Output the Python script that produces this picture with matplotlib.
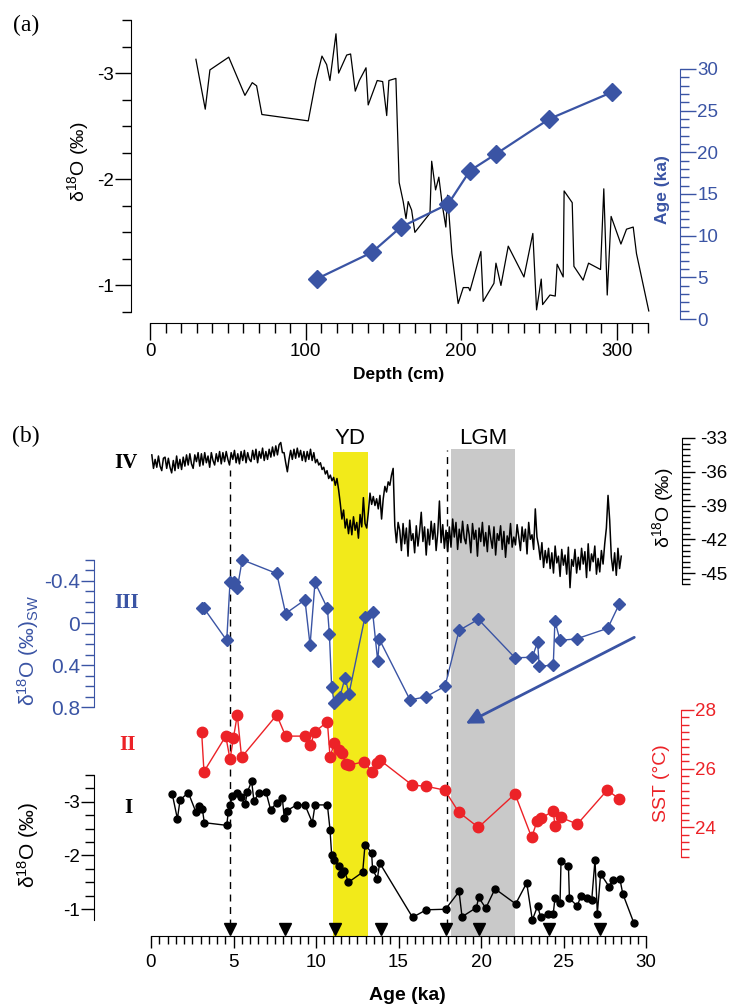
import numpy as np
import matplotlib.pyplot as plt
from matplotlib.ticker import MultipleLocator, FixedLocator, FuncFormatter

plt.rcParams['font.family'] = ['Liberation Sans', 'DejaVu Sans']
plt.rcParams['axes.unicode_minus'] = False
plt.rcParams['mathtext.fontset'] = 'custom'
plt.rcParams['mathtext.rm'] = 'Liberation Sans'
plt.rcParams['mathtext.it'] = 'Liberation Sans:italic'
plt.rcParams['mathtext.bf'] = 'Liberation Sans:bold'
plt.rcParams['mathtext.default'] = 'regular'

BLUE = '#3a54a4'
RED = '#ec2227'
YELLOW = '#f2ea1a'
GREY = '#c9c9c9'

# ---- panel (a): d18O vs depth and age model
depth_a = [29.5, 35.5, 38.5, 50.6, 61.0, 65.7, 68.5, 71.9, 101.7, 106.6,
           110.5, 113.5, 115.6, 119.5, 121.2, 126.4, 128.9, 131.9, 134.5, 138.8,
           140.2, 146.0, 149.5, 152.1, 153.5, 158.0, 160.1, 162.7, 164.5, 165.9,
           168.1, 170.2, 179.9, 181.0, 183.5, 185.6, 187.8, 190.1, 191.2, 194.0,
           198.0, 201.3, 204.7, 205.6, 212.6, 214.1, 221.0, 222.3, 225.5, 230.2,
           240.3, 246.0, 248.4, 251.4, 252.3, 257.0, 260.4, 261.6, 265.5, 266.1,
           271.3, 272.4, 278.3, 281.8, 289.5, 291.6, 293.8, 296.3, 302.6, 306.2,
           310.5, 312.6, 320.5]
d18o_a = [-3.13, -2.66, -3.03, -3.15, -2.79, -2.91, -2.88, -2.61, -2.55, -2.93,
          -3.16, -3.08, -2.93, -3.37, -3.00, -3.17, -3.18, -2.83, -2.93, -3.05,
          -2.70, -2.93, -2.92, -2.60, -2.93, -2.95, -1.97, -1.79, -1.63, -1.79,
          -1.71, -1.50, -1.68, -2.17, -1.90, -2.02, -1.76, -1.55, -1.85, -1.30,
          -0.83, -0.98, -0.98, -0.95, -1.32, -0.85, -1.02, -1.21, -1.00, -1.37,
          -1.08, -1.49, -0.77, -1.06, -0.82, -0.91, -0.90, -1.20, -1.08, -1.89,
          -1.78, -1.18, -1.05, -1.21, -1.15, -1.91, -0.91, -1.65, -1.39, -1.53,
          -1.55, -1.30, -0.76]
depth_dated = [107, 142.6, 161, 191.6, 205.6, 222.3, 256.5, 296.6]
age_dated = [4.8, 8.0, 11.0, 13.8, 17.8, 19.8, 24.0, 27.2]

# ---- panel (b)
# I: planktonic d18O
age_1 = [1.29, 1.60, 1.76, 2.26, 2.73, 2.91, 3.11, 3.23, 4.59, 4.68,
         4.79, 4.93, 5.19, 5.43, 5.70, 5.84, 6.10, 6.24, 6.56, 6.97,
         7.25, 7.62, 7.96, 8.08, 8.22, 8.83, 9.33, 9.78, 9.94, 10.69,
         10.85, 10.95, 11.11, 11.41, 11.52, 11.72, 11.96, 12.83, 12.97, 13.37,
         13.43, 13.72, 13.86, 15.85, 16.69, 17.85, 18.67, 18.85, 19.72, 19.86,
         20.29, 20.85, 22.1, 22.77, 23.11, 23.43, 23.62, 24.04, 24.38, 24.48,
         24.79, 24.85, 25.3, 25.36, 25.84, 26.04, 26.4, 26.71, 26.91, 27.05,
         27.25, 27.76, 27.98, 28.42, 28.59, 29.27]
d18o_1 = [-3.14, -2.68, -3.03, -3.17, -2.80, -2.92, -2.87, -2.61, -2.56, -2.80,
          -2.94, -3.10, -3.17, -3.09, -2.95, -3.18, -3.38, -3.01, -3.17, -3.18,
          -2.85, -2.98, -3.06, -2.69, -2.83, -2.94, -2.94, -2.61, -2.94, -2.94,
          -2.48, -2.00, -1.92, -1.81, -1.66, -1.72, -1.50, -1.69, -2.20, -2.05,
          -1.74, -1.57, -1.86, -0.85, -0.99, -1.00, -1.33, -0.86, -1.03, -1.22,
          -1.02, -1.38, -1.10, -1.49, -0.80, -1.06, -0.85, -0.92, -0.92, -1.20,
          -1.11, -1.90, -1.80, -1.20, -1.06, -1.24, -1.20, -1.17, -1.92, -0.92,
          -1.66, -1.42, -1.54, -1.56, -1.29, -0.74]

# II: SST
age_2 = [3.07, 3.21, 4.53, 4.79, 4.99, 5.23, 5.49, 7.62, 8.16, 9.33,
         9.66, 9.94, 10.69, 10.85, 11.11, 11.41, 11.56, 11.82, 12.0, 12.93,
         13.37, 13.72, 13.86, 15.83, 16.68, 17.8, 18.65, 19.84, 22.06, 23.07,
         23.41, 23.64, 24.38, 24.48, 24.83, 25.84, 27.65, 28.38]
sst = [27.24, 25.9, 27.11, 26.32, 27.03, 27.83, 26.39, 27.83, 27.11, 27.11,
       26.81, 27.26, 27.6, 26.41, 26.86, 26.64, 26.52, 26.16, 26.12, 26.24,
       25.9, 26.18, 26.3, 25.44, 25.4, 25.27, 24.52, 24.0, 25.14, 23.66,
       24.23, 24.31, 24.56, 24.05, 24.34, 24.11, 25.27, 24.97]

# III: seawater d18O
age_3 = [3.07, 3.21, 4.59, 4.79, 5.03, 5.23, 5.53, 7.62, 8.16, 9.33,
         9.64, 9.94, 10.69, 10.81, 10.95, 11.11, 11.45, 11.76, 12.0, 12.97,
         13.43, 13.74, 13.84, 15.7, 16.67, 17.82, 18.67, 19.84, 22.06, 23.11,
         23.43, 23.53, 24.38, 24.48, 24.79, 25.8, 27.68, 28.38]
d18o_sw = [-0.14, -0.14, 0.165, -0.39, -0.39, -0.33, -0.60, -0.47, -0.09, -0.22,
           0.21, -0.385, -0.14, 0.10, 0.61, 0.76, 0.70, 0.52, 0.67, -0.06,
           -0.105, 0.36, 0.155, 0.73, 0.70, 0.60, 0.07, -0.035, 0.33, 0.325,
           0.18, 0.41, 0.40, -0.02, 0.165, 0.15, 0.05, -0.18]

# IV: ice core d18O, read at ~0.1 ka steps from 0.05 to 28.5 ka
ice_d18o = [
    -34.5, -35.7, -34.9, -35.6, -34.6, -35.5, -35.9, -34.8, -34.7, -35.7,
    -34.8, -35.6, -36.1, -35.0, -35.9, -34.6, -35.7, -34.9, -35.8, -34.7,
    -35.5, -34.5, -35.4, -34.4, -35.3, -35.7, -34.5, -35.1, -34.3, -35.5,
    -34.4, -35.4, -34.3, -35.2, -34.6, -35.6, -34.3, -35.0, -35.4, -34.4,
    -35.1, -34.2, -35.3, -34.3, -35.1, -34.2, -34.9, -35.4, -34.3, -34.9,
    -34.1, -35.2, -34.4, -35.3, -34.2, -35.0, -34.1, -35.2, -34.3, -34.9,
    -35.1, -34.1, -34.9, -34.0, -35.2, -34.2, -34.8, -33.9, -35.0, -34.2,
    -34.9, -34.0, -34.7, -33.8, -34.6, -33.7, -34.5, -33.6, -33.4, -34.3,
    -34.3, -35.2, -36.0, -34.9, -34.1, -34.9, -34.0, -34.8, -33.9, -34.7,
    -34.1, -35.0, -34.2, -35.1, -34.2, -34.9, -34.0, -35.0, -34.3, -35.2,
    -34.9, -35.4, -35.2, -35.8, -35.6, -36.2, -35.9, -36.6, -36.3, -36.8,
    -36.5, -37.2, -36.6, -37.6, -38.8, -40.2, -39.4, -41.0, -40.2, -41.5,
    -40.3, -41.6, -40.0, -41.2, -40.5, -41.9, -39.8, -40.9, -38.3, -40.6,
    -41.0, -39.6, -37.9, -38.9, -38.2, -39.0, -38.4, -39.3, -38.1, -40.2,
    -38.4, -37.3, -37.8, -36.9, -37.2, -36.3, -35.7, -40.8, -42.3, -40.5,
    -41.2, -43.0, -40.6, -42.4, -41.0, -43.5, -40.3, -42.1, -41.5, -43.2,
    -40.8, -42.6, -41.3, -39.6, -42.2, -40.9, -43.4, -41.1, -42.5, -40.4,
    -42.0, -40.6, -43.0, -41.4, -38.6, -42.3, -40.7, -42.8, -41.2, -43.1,
    -40.9, -42.7, -40.2, -41.8, -40.5, -42.9, -41.1, -42.3, -40.4, -41.9,
    -42.4, -40.7, -41.6, -43.2, -40.6, -42.0, -41.2, -43.5, -41.0, -42.2,
    -40.5, -42.6, -41.4, -43.1, -40.8, -41.9, -42.8, -40.9, -43.4, -41.5,
    -42.1, -40.8, -42.9, -41.3, -43.6, -41.7, -42.4, -40.6, -42.7, -41.8,
    -42.5, -40.7, -41.8, -43.0, -40.9, -42.2, -41.1, -43.3, -40.5, -42.0,
    -41.6, -42.9, -39.3, -41.8, -42.6, -43.8, -42.3, -44.5, -43.0, -44.1,
    -42.8, -44.6, -43.2, -45.0, -42.6, -44.1, -43.5, -45.3, -42.9, -44.3,
    -43.4, -45.1, -42.7, -46.3, -43.8, -44.4, -42.9, -45.0, -43.6, -44.7,
    -42.8, -44.2, -43.1, -45.4, -42.4, -44.8, -43.3, -44.0, -42.6, -45.1,
    -43.7, -44.9, -43.0, -44.2, -42.4, -41.0, -38.1, -40.3, -43.6, -44.8,
    -43.2, -45.2, -42.8, -44.6, -43.5]
ice_age = np.linspace(0.05, 28.5, len(ice_d18o))

tie_points = [4.8, 8.15, 11.15, 13.95, 17.9, 19.85, 24.1, 27.2]
dashed_ages = [4.8, 17.95]
yd_span = (11.0, 13.15)
lgm_span = (18.2, 22.05)

W, H = 740, 1006
PX = 0.72  # points per pixel at dpi 100
fig = plt.figure(figsize=(W / 100, H / 100), dpi=100)


def px_axes(x0, x1, ytop, ybot):
    return fig.add_axes([x0 / W, 1 - ybot / H, (x1 - x0) / W, (ybot - ytop) / H])


def ftext(x, y, s, **kw):
    kw.setdefault('ha', 'center')
    kw.setdefault('va', 'center')
    fig.text(x / W, 1 - y / H, s, **kw)


def overlay(x0, x1, ytop, ybot, side, offset, color):
    ax = px_axes(x0, x1, ytop, ybot)
    ax.patch.set_visible(False)
    for s in ax.spines:
        ax.spines[s].set_visible(s == side)
    ax.spines[side].set_position(('outward', offset * PX))
    ax.spines[side].set_color(color)
    ax.xaxis.set_visible(False)
    ax.yaxis.set_ticks_position(side)
    return ax


def yticks(ax, color, major, minor, size, maj_len, min_len, pad):
    ax.yaxis.set_major_locator(FixedLocator(major))
    ax.yaxis.set_minor_locator(MultipleLocator(minor))
    ax.yaxis.set_major_formatter(FuncFormatter(lambda v, p: f'{v:g}'))
    ax.tick_params(axis='y', which='major', length=maj_len * PX, width=1,
                   colors=color, labelsize=size, pad=pad)
    ax.tick_params(axis='y', which='minor', length=min_len * PX, width=1,
                   colors=color)


d18o_label = 'δ$^{18}$O (‰)'

# ================= panel (a)
axa = px_axes(150, 648, 20, 312)
axa.patch.set_visible(False)
axa.set_xlim(0, 320)
axa.set_ylim(-0.75, -3.5)
axa.spines['top'].set_visible(False)
axa.spines['right'].set_visible(False)
axa.spines['left'].set_position(('outward', 19 * PX))
axa.spines['bottom'].set_position(('outward', 11 * PX))
axa.xaxis.set_major_locator(MultipleLocator(100))
axa.xaxis.set_minor_locator(MultipleLocator(10))
axa.tick_params(axis='x', which='major', length=17 * PX, width=1, labelsize=13.5, pad=2)
axa.tick_params(axis='x', which='minor', length=10 * PX, width=1)
yticks(axa, 'black', [-3, -2, -1], 0.25, 13.5, 16, 9, 1)
axa.plot(depth_a, d18o_a, color='black', lw=0.9, clip_on=False)

axage = overlay(150, 648, 69, 319, 'right', 32, BLUE)
axage.set_xlim(0, 320)
axage.set_ylim(0, 30)
yticks(axage, BLUE, [0, 5, 10, 15, 20, 25, 30], 1, 13.5, 16, 9, 1)
axage.plot(depth_dated, age_dated, '-D', color=BLUE, lw=1.6, ms=9, clip_on=False)

ftext(26, 25, '(a)', family='Liberation Serif', fontsize=17)
ftext(78, 162, d18o_label, rotation=90, fontsize=14)
ftext(662, 190, 'Age (ka)', rotation=90, fontsize=12.5, fontweight='bold', color=BLUE)
ftext(399, 375, 'Depth (cm)', fontsize=12.5, fontweight='bold')

# ================= panel (b)
axb = px_axes(151, 646, 440, 936)
axb.patch.set_visible(False)
axb.set_xlim(0, 30)
axb.set_ylim(0, 1)
for s in ['top', 'left', 'right']:
    axb.spines[s].set_visible(False)
axb.yaxis.set_visible(False)
axb.xaxis.set_major_locator(MultipleLocator(5))
axb.xaxis.set_minor_locator(MultipleLocator(0.5))
axb.tick_params(axis='x', which='major', length=12 * PX, width=1, labelsize=13.5, pad=4)
axb.tick_params(axis='x', which='minor', length=8 * PX, width=1)
axb.axvspan(*yd_span, ymin=0, ymax=(936 - 452) / 496, color=YELLOW, lw=0, zorder=0)
axb.axvspan(*lgm_span, ymin=0, ymax=(936 - 449) / 496, color=GREY, lw=0, zorder=0)
for a, top in zip(dashed_ages, [(936 - 470) / 496, (936 - 450) / 496]):
    axb.plot([a, a], [0.02, top], color='black', lw=1, ls=(0, (5, 4)), zorder=1)
axb.plot(tie_points, [0.014] * len(tie_points), 'v', color='black', ms=8.5,
         clip_on=False, zorder=3)

# IV ice core
ax4 = overlay(151, 646, 438, 584.3, 'right', 35.7, 'black')
ax4.set_xlim(0, 30)
ax4.set_ylim(-46, -33)
yticks(ax4, 'black', [-45, -42, -39, -36, -33], 0.5, 13.5, 13, 8, 4)
ax4.plot(ice_age, ice_d18o, color='black', lw=1.1, clip_on=False)

# III seawater d18O
ax3 = overlay(151, 646, 559.8, 707.3, 'left', 56.7, BLUE)
ax3.set_xlim(0, 30)
ax3.set_ylim(0.8, -0.6)
yticks(ax3, BLUE, [-0.4, 0, 0.4, 0.8], 0.1, 15, 13, 9, 1)
ax3.plot(age_3, d18o_sw, '-D', color=BLUE, lw=1, ms=6, clip_on=False)
ax3.annotate('', xy=(18.93, 0.967), xytext=(29.44, 0.124),
             arrowprops=dict(arrowstyle='-|>', color=BLUE, lw=2, mutation_scale=24),
             annotation_clip=False)

# II SST
ax2 = overlay(151, 646, 710, 856.7, 'right', 35, RED)
ax2.set_xlim(0, 30)
ax2.set_ylim(23, 28)
yticks(ax2, RED, [24, 26, 28], 0.25, 13.5, 13, 8, 1)
ax2.plot(age_2, sst, '-o', color=RED, lw=1, ms=7.5, clip_on=False)

# I planktonic d18O
ax1 = overlay(151, 646, 774.8, 920, 'left', 56.7, 'black')
ax1.set_xlim(0, 30)
ax1.set_ylim(-0.8, -3.5)
yticks(ax1, 'black', [-3, -2, -1], 0.25, 13.5, 13, 9, 1)
ax1.plot(age_1, d18o_1, '-o', color='black', lw=1, ms=5, clip_on=False)

ftext(26, 436, '(b)', family='Liberation Serif', fontsize=17)
ftext(350, 438, 'YD', fontsize=16)
ftext(483, 438, 'LGM', fontsize=16)
ftext(126, 463, 'IV', family='Liberation Serif', fontweight='bold', fontsize=15)
ftext(127, 603, 'III', family='Liberation Serif', fontweight='bold', fontsize=15, color=BLUE)
ftext(128, 745, 'II', family='Liberation Serif', fontweight='bold', fontsize=15, color=RED)
ftext(128, 808, 'I', family='Liberation Serif', fontweight='bold', fontsize=15)
ftext(663, 508, d18o_label, rotation=90, fontsize=14)
ftext(28, 650, d18o_label + '$_{SW}$', rotation=90, fontsize=15, color=BLUE)
ftext(662, 783, 'SST (°C)', rotation=90, fontsize=14, color=RED)
ftext(28, 845, d18o_label, rotation=90, fontsize=15)
ftext(407, 995, 'Age (ka)', fontsize=14, fontweight='bold')

fig.savefig('out.png', dpi=100)
